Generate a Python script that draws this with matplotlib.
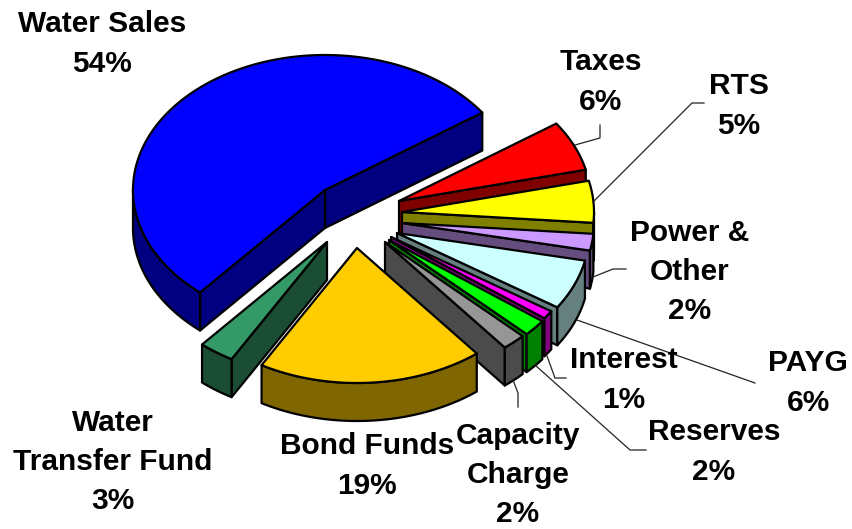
import numpy as np
import matplotlib
matplotlib.use("Agg")
import matplotlib.pyplot as plt
from matplotlib.patches import Polygon

plt.rcParams['font.family'] = ['Liberation Sans', 'DejaVu Sans']

#slices in counter clockwise order, starting from the biggest one
CATEGORIES = ["Water Sales", "Water\nTransfer Fund", "Bond Funds", "Capacity\nCharge", "Reserves",
              "Interest", "PAYG", "Power &\nOther", "RTS", "Taxes"]
SHARES = [54, 3, 19, 2, 2, 1, 6, 2, 5, 6]

TOP_COLORS = ["#0000FF", "#339966", "#FFCC00", "#969696", "#00FF00",
              "#FF00FF", "#CCFFFF", "#CC99FF", "#FFFF00", "#FF0000"]
SIDE_COLORS = ["#000080", "#1A4D33", "#806600", "#4B4B4B", "#008000",
               "#800080", "#668080", "#664D80", "#808000", "#800000"]

#pie geometry in pixels
CENTER = (375, 215)
RADIUS_X = 192
RADIUS_Y = 135
DEPTH = 38
START_ANGLE = 35
#how far each slice is pulled out of the pie, pixels
EXPLODE = [(-50, -25), (-48, 27), (-18, 33), (10, 27), (14, 25),
           (16, 22), (22, 18), (27, 8), (27, -3), (24, -14)]

#back slices first, the front ones paint over them
DRAW_ORDER = [9, 8, 7, 6, 5, 4, 3, 0, 1, 2]

#text position of each label (center x, center y), same order as CATEGORIES
LABEL_POS = [(102, 44), (113, 462), (367, 466), (518, 475), (714, 452),
             (624, 380), (808, 383), (690, 272), (739, 106), (601, 82)]

#leader lines, from label to slice
LEADERS = [[(600, 125), (600, 138), (575, 145)],
           [(704, 103), (692, 103), (593, 202)],
           [(626, 269), (613, 269), (593, 277)],
           [(755, 383), (577, 320)],
           [(566, 378), (555, 378), (547, 356)],
           [(646, 450), (630, 450), (535, 365)],
           [(518, 407), (518, 393), (513, 380)]]


def rimPoints(apex, a1, a2):
    #points of the elliptical rim between two angles (degrees)
    steps = max(2, int(abs(a2 - a1)) + 2)
    t = np.radians(np.linspace(a1, a2, steps))
    return np.column_stack((apex[0] + RADIUS_X * np.cos(t), apex[1] - RADIUS_Y * np.sin(t)))


def addWall(ax, topEdge, color):
    bottom = topEdge[::-1] + np.array([0, DEPTH])
    ax.add_patch(Polygon(np.vstack((topEdge, bottom)), closed=True, facecolor=color,
                         edgecolor='black', linewidth=1.6, joinstyle='round'))


def drawSlice(ax, apex, a1, a2, topColor, sideColor):
    apex = np.array(apex, dtype=float)

    #radial cut faces that look towards the viewer
    if np.cos(np.radians(a1)) > 0:
        addWall(ax, np.vstack((apex, rimPoints(apex, a1, a1)[0])), sideColor)
    if np.cos(np.radians(a2)) < 0:
        addWall(ax, np.vstack((apex, rimPoints(apex, a2, a2)[0])), sideColor)

    #outer wall, only the front half of the rim shows
    lo, hi = max(a1, 180), min(a2, 360)
    if lo < hi:
        addWall(ax, rimPoints(apex, lo, hi), sideColor)

    top = np.vstack((apex, rimPoints(apex, a1, a2)))
    ax.add_patch(Polygon(top, closed=True, facecolor=topColor, edgecolor='black',
                         linewidth=1.6, joinstyle='round'))


fig = plt.figure(figsize=(8.52, 5.29), dpi=100)
ax = fig.add_axes([0, 0, 1, 1])
ax.set_xlim(0, 852)
ax.set_ylim(529, 0)
ax.axis('off')

edges = START_ANGLE + np.concatenate(([0], np.cumsum(SHARES))) * 3.6

for i in DRAW_ORDER:
    apex = (CENTER[0] + EXPLODE[i][0], CENTER[1] + EXPLODE[i][1])
    drawSlice(ax, apex, edges[i], edges[i + 1], TOP_COLORS[i], SIDE_COLORS[i])

for line in LEADERS:
    xs, ys = zip(*line)
    ax.plot(xs, ys, color='#222222', linewidth=0.9, solid_joinstyle='miter')

for name, share, pos in zip(CATEGORIES, SHARES, LABEL_POS):
    ax.text(pos[0], pos[1], f"{name}\n{share}%", ha='center', va='center', multialignment='center',
            fontsize=21.5, fontweight='bold', color='black', linespacing=1.51)

fig.savefig("out.png", dpi=100)
